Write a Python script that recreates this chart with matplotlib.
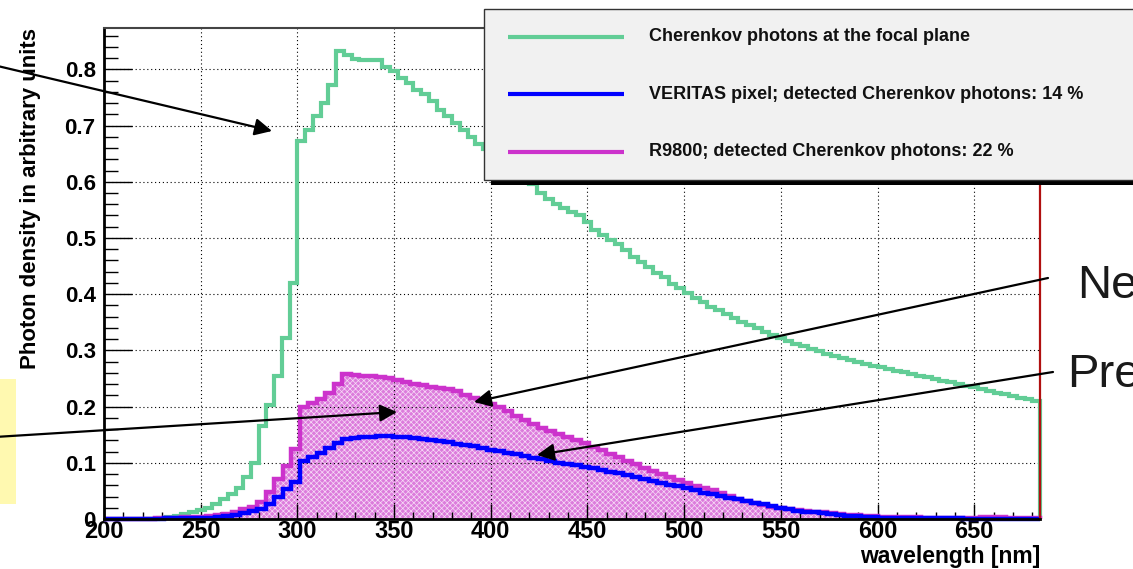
import numpy as np
import matplotlib.pyplot as plt
from matplotlib.patches import Rectangle
from matplotlib.ticker import MultipleLocator

plt.rcParams['font.family'] = ['Liberation Sans', 'DejaVu Sans']
plt.rcParams['hatch.linewidth'] = 0.5

# --- histogram binning (nm) ---
WL_MIN, WL_MAX = 200, 684
focal_edges = np.linspace(WL_MIN, WL_MAX, 122)   # 4 nm bins
pixel_edges = np.linspace(WL_MIN, WL_MAX, 111)   # 4.4 nm bins

# Cherenkov photons at the focal plane
focal_plane = [
    0, 0, 0, 0, 0, 0, 0, 0.001, 0.003, 0.006,
    0.009, 0.012, 0.016, 0.020, 0.027, 0.036, 0.045, 0.056, 0.075, 0.100,
    0.165, 0.203, 0.254, 0.322, 0.420, 0.672, 0.692, 0.717, 0.740, 0.772,
    0.833, 0.825, 0.819, 0.817, 0.817, 0.816, 0.805, 0.797, 0.784, 0.775,
    0.764, 0.756, 0.743, 0.728, 0.717, 0.705, 0.692, 0.680, 0.668, 0.658,
    0.647, 0.637, 0.626, 0.616, 0.605, 0.596, 0.580, 0.570, 0.560, 0.554,
    0.546, 0.540, 0.528, 0.515, 0.505, 0.496, 0.490, 0.478, 0.467, 0.457,
    0.449, 0.438, 0.430, 0.418, 0.411, 0.402, 0.394, 0.386, 0.378, 0.371,
    0.364, 0.357, 0.351, 0.345, 0.339, 0.333, 0.327, 0.322, 0.317, 0.312,
    0.307, 0.303, 0.298, 0.294, 0.290, 0.287, 0.283, 0.280, 0.276, 0.273,
    0.270, 0.267, 0.264, 0.261, 0.258, 0.255, 0.252, 0.249, 0.246, 0.243,
    0.240, 0.237, 0.234, 0.231, 0.228, 0.225, 0.222, 0.219, 0.216, 0.213,
    0.210,
]

# R9800 detected photons
r9800 = [
    0, 0, 0, 0, 0, 0, 0.001, 0.002, 0.002, 0.003,
    0.003, 0.004, 0.005, 0.007, 0.009, 0.013, 0.017, 0.022, 0.030, 0.048,
    0.072, 0.095, 0.124, 0.200, 0.207, 0.214, 0.224, 0.240, 0.258, 0.256,
    0.255, 0.254, 0.253, 0.250, 0.247, 0.244, 0.241, 0.238, 0.235, 0.233,
    0.231, 0.227, 0.221, 0.215, 0.210, 0.205, 0.199, 0.192, 0.184, 0.176,
    0.169, 0.162, 0.156, 0.151, 0.146, 0.141, 0.135, 0.128, 0.122, 0.116,
    0.110, 0.103, 0.097, 0.091, 0.086, 0.080, 0.074, 0.069, 0.064, 0.059,
    0.055, 0.052, 0.047, 0.041, 0.036, 0.032, 0.028, 0.025, 0.022, 0.019,
    0.017, 0.016, 0.014, 0.013, 0.012, 0.011, 0.009, 0.008, 0.007, 0.006,
    0.005, 0.004, 0.004, 0.004, 0.003, 0.003, 0.002, 0.002, 0.002, 0.002,
    0.002, 0.002, 0.001, 0.003, 0.003, 0.003, 0.002, 0.001, 0.001, 0.001,
]

# VERITAS pixel detected photons
veritas = [
    0, 0, 0, 0, 0, 0, 0, 0.001, 0.001, 0.001,
    0.001, 0.002, 0.002, 0.003, 0.005, 0.008, 0.011, 0.014, 0.018, 0.027,
    0.040, 0.054, 0.066, 0.104, 0.110, 0.117, 0.126, 0.135, 0.143, 0.144,
    0.145, 0.146, 0.147, 0.147, 0.146, 0.145, 0.144, 0.142, 0.141, 0.139,
    0.137, 0.133, 0.131, 0.129, 0.126, 0.123, 0.121, 0.118, 0.115, 0.112,
    0.109, 0.106, 0.103, 0.100, 0.098, 0.096, 0.093, 0.090, 0.087, 0.084,
    0.081, 0.078, 0.074, 0.071, 0.068, 0.064, 0.061, 0.058, 0.055, 0.051,
    0.047, 0.044, 0.041, 0.038, 0.035, 0.032, 0.029, 0.026, 0.023, 0.020,
    0.017, 0.015, 0.013, 0.012, 0.010, 0.009, 0.008, 0.006, 0.005, 0.004,
    0.003, 0.002, 0.002, 0.001, 0.001, 0.001, 0.001, 0.001, 0.001, 0.001,
    0.001, 0, 0, 0, 0, 0, 0, 0, 0, 0,
]

legend_labels = [
    "Cherenkov photons at the focal plane",
    "VERITAS pixel; detected Cherenkov photons: 14 %",
    "R9800; detected Cherenkov photons: 22 %",
]

x_ticks = [200, 250, 300, 350, 400, 450, 500, 550, 600, 650]
y_ticks = [0, 0.1, 0.2, 0.3, 0.4, 0.5, 0.6, 0.7, 0.8]
y_ticklabels = ["0", "0.1", "0.2", "0.3", "0.4", "0.5", "0.6", "0.7", "0.8"]

GREEN = '#62cd96'
BLUE = '#0000ff'
MAGENTA = '#cc33cc'

W, H = 1133, 569
fig = plt.figure(figsize=(W / 100, H / 100), dpi=100)
ax = fig.add_axes([104 / W, 1 - 519 / H, (1040 - 104) / W, (519 - 28.3) / H])

# histograms
ax.stairs(focal_plane, focal_edges, color=GREEN, lw=3, zorder=2, clip_on=False)
ax.stairs(r9800, pixel_edges, fill=True, facecolor='#dc7cdc', edgecolor='#f7dcf7',
          hatch='xxxxxx', lw=0, zorder=1)
ax.stairs(r9800, pixel_edges, color=MAGENTA, lw=3.2, zorder=2.1, clip_on=False)
ax.stairs(veritas, pixel_edges, color=BLUE, lw=3.2, zorder=2.2, clip_on=False)

ax.set_xlim(WL_MIN, WL_MAX)
ax.set_ylim(0, 0.873)

ax.set_xticks(x_ticks)
ax.set_yticks(y_ticks)
ax.set_yticklabels(y_ticklabels)
ax.xaxis.set_minor_locator(MultipleLocator(10))
ax.yaxis.set_minor_locator(MultipleLocator(0.02))
ax.tick_params(axis='y', which='major', direction='in', length=20, width=1, pad=6, labelsize=16)
ax.tick_params(axis='y', which='minor', direction='in', length=10, width=1)
ax.tick_params(axis='x', which='major', direction='in', length=11, width=1, pad=1, labelsize=17)
ax.tick_params(axis='x', which='minor', direction='in', length=5, width=1)
for lbl in ax.get_xticklabels() + ax.get_yticklabels():
    lbl.set_fontweight('bold')

ax.set_axisbelow('line')
ax.grid(True, which='major', color='black', linestyle=(0, (1, 2.5)), lw=0.8)

ax.spines['left'].set_linewidth(2)
ax.spines['bottom'].set_linewidth(2)
ax.spines['top'].set_color('#444444')
ax.spines['top'].set_linewidth(1.5)
ax.spines['right'].set_color('#b01010')
ax.spines['right'].set_linewidth(1.6)

ylab = ax.set_ylabel("Photon density in arbitrary units", fontsize=16, fontweight='bold')
ax.yaxis.set_label_coords(-0.078, 1.0)
ylab.set_rotation_mode('default')
ylab.set_va('top')
ylab.set_ha('center')

xlab = ax.set_xlabel("wavelength [nm]", fontsize=16.5, fontweight='bold')
ax.xaxis.set_label_coords(1.0, -0.076)
xlab.set_ha('right')
xlab.set_va('center')

# --- overlay in pixel coordinates: legend box, callouts ---
ov = fig.add_axes([0, 0, 1, 1], zorder=10)
ov.set_xlim(0, W)
ov.set_ylim(H, 0)
ov.axis('off')
ov.patch.set_visible(False)

ov.add_patch(Rectangle((0, 379), 15.5, 125, facecolor='#fff9b0', edgecolor='none'))

ov.add_patch(Rectangle((491, 175), 700, 10, facecolor='black', edgecolor='none'))
ov.add_patch(Rectangle((484, 9), 700, 171, facecolor='#f1f1f1', edgecolor='#333333', lw=1))
for y, col, txt in zip([36.7, 94, 151.7], [GREEN, BLUE, MAGENTA], legend_labels):
    ov.plot([508, 624], [y, y], color=col, lw=3, solid_capstyle='butt')
    ov.text(649, y, txt, fontsize=13, fontweight='bold', va='center', ha='left', color='#111111')

arrow_kw = dict(arrowstyle='-|>', color='black', lw=1.6, mutation_scale=26,
                shrinkA=0, shrinkB=0)
callouts = [((-10, 64.2), (272, 131)),
            ((-10, 437.3), (397, 412)),
            ((1048, 278), (474, 402)),
            ((1053, 372), (537, 455))]
for start, tip in callouts:
    ov.annotate('', xy=tip, xytext=start, arrowprops=arrow_kw)

ov.text(1077, 286, "Ne", fontsize=34, va='center', ha='left', color='#1a1a1a')
ov.text(1067, 375, "Pre", fontsize=34, va='center', ha='left', color='#1a1a1a')

fig.savefig('out.png', dpi=100)
